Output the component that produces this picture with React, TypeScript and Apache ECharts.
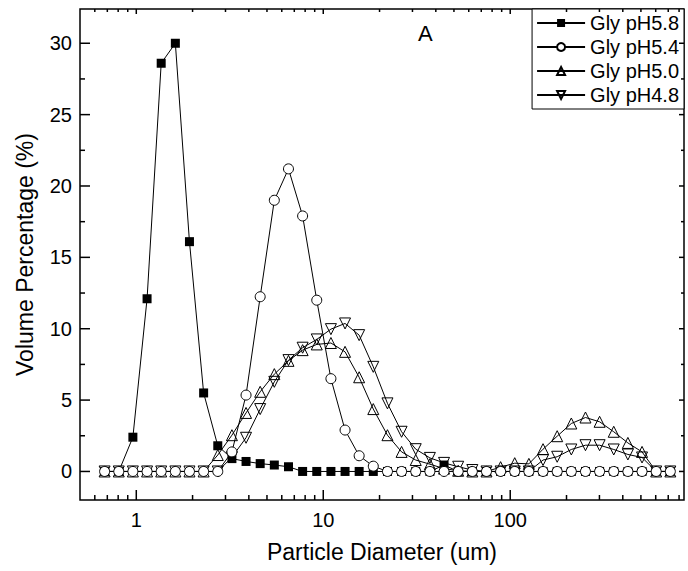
import React, { useEffect, useRef } from "react";
import * as echarts from "echarts";

// Particle diameters (um)
const diameters = [
  0.677, 0.806, 0.959, 1.142, 1.359, 1.618, 1.925, 2.292, 2.728, 3.247,
  3.864, 4.599, 5.474, 6.516, 7.756, 9.231, 10.99, 13.08, 15.56, 18.52,
  22.05, 26.24, 31.23, 37.18, 44.26, 52.68, 62.7, 74.65, 88.83, 105.7,
  125.8, 149.8, 178.3, 212.2, 252.6, 300.6, 357.8, 425.9, 507.0, 603.5, 718.2,
];

const seriesNames = ["Gly pH5.8", "Gly pH5.4", "Gly pH5.0", "Gly pH4.8"];

const glyPH58 = [
  0, 0, 2.4, 12.1, 28.6, 30.0, 16.1, 5.5, 1.8, 0.9,
  0.7, 0.55, 0.45, 0.33, 0, 0, 0, 0, 0, 0,
  0, 0, 0, 0, 0.45, 0, 0, 0, 0, 0,
  0, 0, 0, 0, 0, 0, 0, 0, 0, 0, 0,
];
const glyPH54 = [
  0, 0, 0, 0, 0, 0, 0, 0, 0, 1.37,
  5.35, 12.24, 19.0, 21.2, 17.9, 12.0, 6.5, 2.9, 1.1, 0.37,
  0, 0, 0, 0, 0, 0, 0, 0, 0, 0,
  0, 0, 0, 0, 0, 0, 0, 0, 0, 0, 0,
];
const glyPH50 = [
  0, 0, 0, 0, 0, 0, 0, 0, 1.15, 2.54,
  4.1, 5.58, 6.82, 7.75, 8.5, 8.9, 9.0, 8.38, 6.6, 4.37,
  2.54, 1.37, 0.8, 0.51, 0.2, 0.05, 0, 0, 0.3, 0.58,
  0.53, 1.56, 2.47, 3.36, 3.78, 3.48, 2.78, 2.0, 1.37, 0, 0,
];
const glyPH48 = [
  0, 0, 0, 0, 0, 0, 0, 0, 0, 1.0,
  2.36, 4.37, 6.28, 7.8, 8.67, 9.25, 9.97, 10.37, 9.55, 7.33,
  4.77, 2.78, 1.56, 0.95, 0.6, 0.33, 0.1, 0, 0, 0,
  0, 0.8, 1.03, 1.54, 1.84, 1.84, 1.54, 1.19, 0.98, 0, 0,
];

const xLabelTicks = [1, 10, 100];
const xMinorTicks = [
  0.6, 0.7, 0.8, 0.9, 2, 3, 4, 5, 6, 7, 8, 9,
  20, 30, 40, 50, 60, 70, 80, 90, 200, 300, 400, 500, 600, 700, 800,
];
const yMajorTicks = [0, 5, 10, 15, 20, 25, 30];
const yMinorTicks = [2.5, 7.5, 12.5, 17.5, 22.5, 27.5];

const FONT = "'Liberation Sans', Arial, Helvetica, sans-serif";

function tickSeries(values: number[], dim: "x" | "y", len: number, mirrorLen: number) {
  return {
    type: "custom",
    silent: true,
    clip: false,
    z: 10,
    data: values.map((v) => (dim === "x" ? [v, 0] : [1, v])),
    encode: { x: 0, y: 1 },
    renderItem: (params: any, api: any) => {
      const cs = params.coordSys;
      const p = api.coord([api.value(0), api.value(1)]);
      const style = { stroke: "#000", lineWidth: 1.5 };
      if (dim === "x") {
        const b = cs.y + cs.height;
        const t = cs.y;
        return {
          type: "group",
          children: [
            { type: "line", shape: { x1: p[0], y1: b, x2: p[0], y2: b - len }, style },
            { type: "line", shape: { x1: p[0], y1: t, x2: p[0], y2: t + mirrorLen }, style },
          ],
        };
      }
      const l = cs.x;
      const r = cs.x + cs.width;
      return {
        type: "group",
        children: [
          { type: "line", shape: { x1: l, y1: p[1], x2: l + len, y2: p[1] }, style },
          { type: "line", shape: { x1: r, y1: p[1], x2: r - mirrorLen, y2: p[1] }, style },
        ],
      };
    },
  };
}

function pairs(vals: number[]) {
  return diameters.map((d, i) => [d, vals[i]]);
}

export default function App() {
  const ref = useRef<HTMLDivElement>(null);
  useEffect(() => {
    if (!ref.current) return;
    const chart = echarts.init(ref.current, undefined, { renderer: "svg" });
    const lineStyle = { color: "#000", width: 1 };
    const option: any = {
      animation: false,
      backgroundColor: "#fff",
      textStyle: { fontFamily: FONT, color: "#000" },
      grid: {
        left: 80,
        right: 4,
        top: 9,
        bottom: 71,
        show: true,
        borderColor: "#000",
        borderWidth: 1.5,
        backgroundColor: "transparent",
        containLabel: false,
        outerBoundsMode: "none",
      },
      legend: {
        data: seriesNames,
        orient: "vertical",
        right: 4,
        top: 9,
        itemWidth: 48,
        itemHeight: 10,
        itemGap: 4,
        padding: [4, 5, 4, 4],
        borderColor: "#000",
        borderWidth: 1,
        backgroundColor: "#fff",
        textStyle: { fontSize: 20, color: "#000", fontFamily: FONT, lineHeight: 20 },
      },
      xAxis: {
        type: "log",
        logBase: 10,
        min: 0.5,
        max: 850,
        name: "Particle Diameter (um)",
        nameLocation: "middle",
        nameGap: 40,
        nameTextStyle: { fontSize: 23, color: "#000", fontFamily: FONT },
        axisLine: { show: false },
        axisTick: { show: false },
        splitLine: { show: false },
        minorTick: { show: false },
        axisLabel: {
          color: "#000",
          fontSize: 20,
          fontFamily: FONT,
          margin: 10,
          formatter: (v: number) => {
            const hit = xLabelTicks.find((t) => Math.abs(t - v) / t < 1e-6);
            return hit !== undefined ? String(hit) : "";
          },
        },
      },
      yAxis: {
        type: "value",
        min: -2,
        max: 32.4,
        interval: 1,
        name: "Volume Percentage (%)",
        nameLocation: "middle",
        nameGap: 44,
        nameTextStyle: { fontSize: 23, color: "#000", fontFamily: FONT },
        axisLine: { show: false },
        axisTick: { show: false },
        splitLine: { show: false },
        axisLabel: {
          color: "#000",
          fontSize: 20,
          fontFamily: FONT,
          margin: 8,
          interval: 0,
          formatter: (v: number) => {
            const hit = yMajorTicks.find((t) => Math.abs(t - v) < 1e-6);
            return hit !== undefined ? String(hit) : "";
          },
        },
      },
      graphic: [
        {
          type: "text",
          left: 418,
          top: 22,
          style: { text: "A", font: `22px ${FONT}`, fill: "#000" },
        },
      ],
      series: [
        {
          name: seriesNames[0],
          type: "line",
          data: pairs(glyPH58),
          symbol: "rect",
          symbolSize: 9,
          itemStyle: { color: "#000" },
          lineStyle,
        },
        {
          name: seriesNames[2],
          type: "line",
          data: pairs(glyPH50),
          symbol: "triangle",
          symbolSize: 11,
          itemStyle: { color: "transparent", borderColor: "#000", borderWidth: 1 },
          lineStyle,
        },
        {
          name: seriesNames[3],
          type: "line",
          data: pairs(glyPH48),
          symbol: "triangle",
          symbolRotate: 180,
          symbolSize: 11,
          itemStyle: { color: "transparent", borderColor: "#000", borderWidth: 1 },
          lineStyle,
        },
        {
          name: seriesNames[1],
          type: "line",
          data: pairs(glyPH54),
          symbol: "circle",
          symbolSize: 10,
          itemStyle: { color: "#fff", borderColor: "#000", borderWidth: 1 },
          lineStyle,
        },
        tickSeries(xLabelTicks, "x", 10, 5),
        tickSeries(xMinorTicks, "x", 5, 3),
        tickSeries(yMajorTicks, "y", 10, 5),
        tickSeries(yMinorTicks, "y", 5, 3),
      ],
    };
    chart.setOption(option);
    return () => chart.dispose();
  }, []);
  return (
    <div
      ref={ref}
      style={{ position: "fixed", left: 0, top: 0, width: 688, height: 571, background: "#fff" }}
    />
  );
}
